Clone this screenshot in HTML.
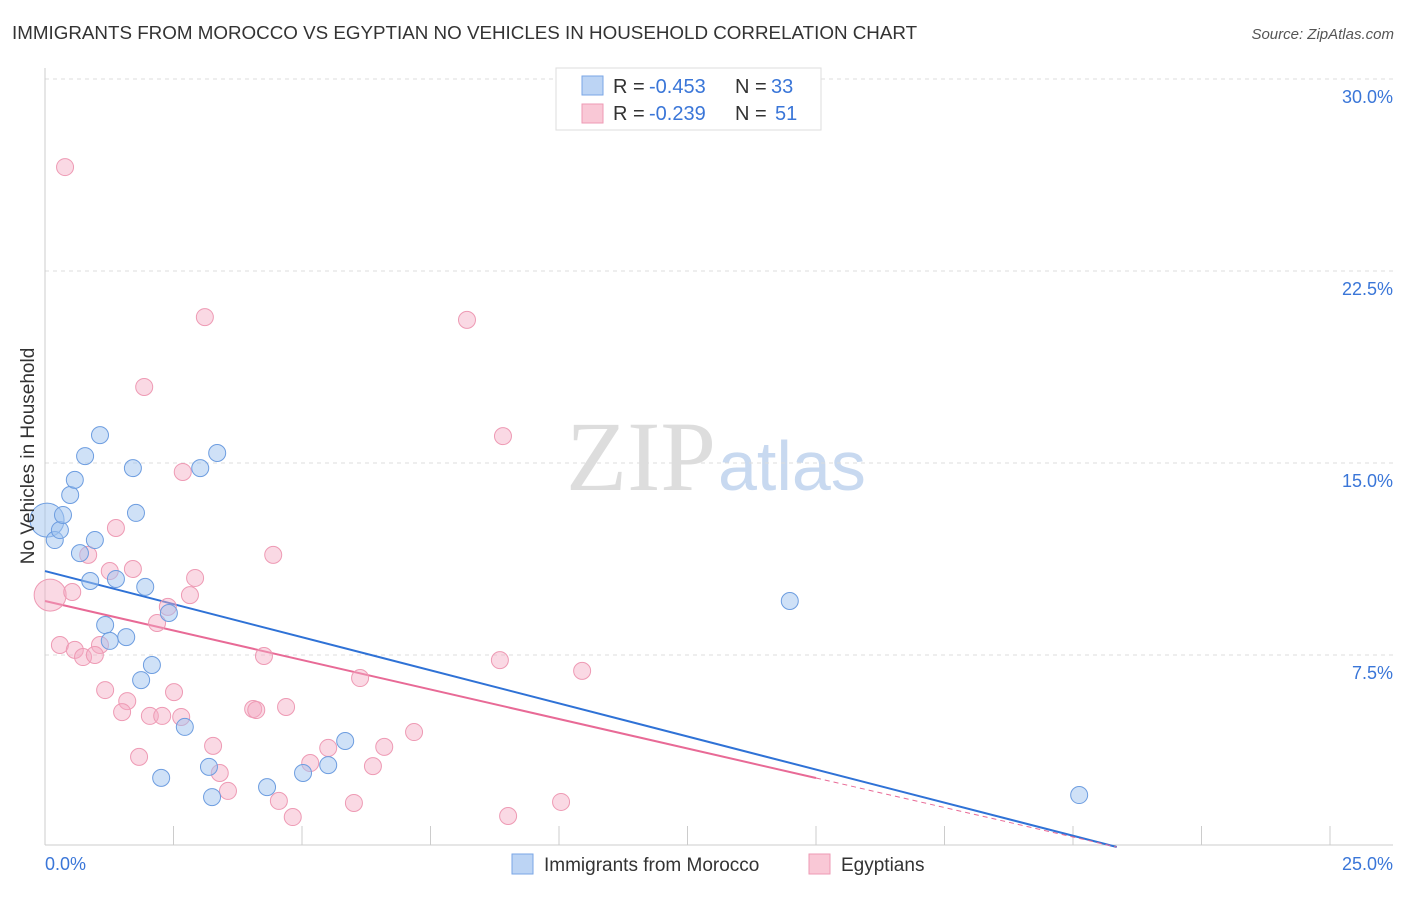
<!DOCTYPE html>
<html><head><meta charset="utf-8"><style>
body{margin:0;background:#fff;font-family:"Liberation Sans",sans-serif;}
</style></head><body>
<svg id="chart" width="1406" height="892" viewBox="0 0 1406 892" xmlns="http://www.w3.org/2000/svg" style="font-family:'Liberation Sans',sans-serif">
<text x="12" y="39" font-size="18.8" fill="#333">IMMIGRANTS FROM MOROCCO VS EGYPTIAN NO VEHICLES IN HOUSEHOLD CORRELATION CHART</text>
<text x="1394" y="39" font-size="15" fill="#555" text-anchor="end" font-style="italic">Source: ZipAtlas.com</text>
<text x="716" y="490" font-size="100" text-anchor="end" fill="#ddd" font-family="Liberation Serif,serif">ZIP</text>
<text x="718" y="490" font-size="70" fill="#c8d9f0">atlas</text>
<g id="grid"></g><g id="axes"></g><g id="lines"></g><g id="points"></g>
<text transform="translate(34,456) rotate(-90)" font-size="19" fill="#333" text-anchor="middle">No Vehicles in Household</text>
<g font-size="20">
<rect x="556" y="68" width="265" height="62" fill="#fff" stroke="#ddd"/>
<rect x="582" y="76" width="21" height="19" fill="#bcd4f4" stroke="#7aa6e6"/>
<rect x="582" y="104" width="21" height="19" fill="#f9c8d6" stroke="#ee9ab4"/>
<text x="613" y="93" fill="#333">R =</text><text x="649" y="93" fill="#3a76d8">-0.453</text>
<text x="735" y="93" fill="#333">N =</text><text x="771" y="93" fill="#3a76d8">33</text>
<text x="613" y="120" fill="#333">R =</text><text x="649" y="120" fill="#3a76d8">-0.239</text>
<text x="735" y="120" fill="#333">N =</text><text x="775" y="120" fill="#3a76d8">51</text>
</g>
<g>
<rect x="512" y="854" width="21" height="20" fill="#bcd4f4" stroke="#7aa6e6"/>
<text x="544" y="871" font-size="19" fill="#333">Immigrants from Morocco</text>
<rect x="809" y="854" width="21" height="20" fill="#f9c8d6" stroke="#ee9ab4"/>
<text x="841" y="871" font-size="19" fill="#333">Egyptians</text>
</g>
</svg>
<script>
const moroccoX=[0.04,0.19,0.29,0.35,0.49,0.58,0.78,1.07,0.68,0.88,0.97,1.38,1.71,1.77,1.95,1.17,1.26,1.58,2.08,1.87,2.41,2.72,2.26,3.02,3.35,3.19,3.25,4.32,5.02,5.51,5.84,14.49,20.12];
const moroccoY=[12.77,11.99,12.38,12.97,13.75,14.34,15.27,16.09,11.48,10.39,11.99,10.47,14.80,13.05,10.16,8.67,8.05,8.20,7.11,6.52,9.14,4.69,2.70,14.80,15.39,3.13,1.95,2.34,2.89,3.20,4.14,9.61,2.03];
const egyptX=[0.39,3.11,8.21,1.93,8.91,2.68,1.38,4.44,0.84,1.26,1.71,2.92,0.10,0.53,2.82,2.39,2.18,0.29,0.58,1.07,0.74,0.97,4.26,8.85,10.45,6.13,1.17,2.51,1.60,1.50,2.04,2.65,2.28,4.05,4.11,4.69,7.18,3.27,5.51,6.60,1.83,3.40,5.16,6.38,3.56,4.55,6.01,10.04,9.01,4.82];
const egyptY=[26.56,20.70,20.59,17.97,16.05,14.65,12.46,11.41,11.41,10.78,10.86,10.51,9.84,9.96,9.84,9.38,8.75,7.89,7.70,7.89,7.42,7.50,7.46,7.30,6.88,6.60,6.13,6.05,5.70,5.27,5.12,5.08,5.12,5.39,5.35,5.47,4.49,3.95,3.87,3.91,3.52,2.89,3.28,3.16,2.19,1.80,1.72,1.76,1.21,1.17];
const yTicks=[7.5,15,22.5,30];
const yTickLabels=["7.5%","15.0%","22.5%","30.0%"];
const xTickLabels=["0.0%","25.0%"];
const moroccoFit=[10.78,-0.517];
const egyptFit=[9.61,-0.461];
const NS="http://www.w3.org/2000/svg";
const X=v=>45+v/25*1285, Y=v=>847-v/7.5*192;
function mk(p,t,a){const e=document.createElementNS(NS,t);for(const k in a)e.setAttribute(k,a[k]);document.getElementById(p).appendChild(e);return e;}
yTicks.forEach((t,i)=>{
 const g=mk('grid','line',{x1:45,x2:1393,y1:Y(t),y2:Y(t),stroke:'#ddd','stroke-dasharray':'4,4'});
 
 
 const l=mk('axes','text',{x:1393,y:Y(t)+24,'font-size':18,fill:'#3a76d8','text-anchor':'end'});
 l.textContent=yTickLabels[i];
 
 
});
const ax=mk('axes','line',{x1:45,x2:1393,y1:845,y2:845,stroke:'#ccc'});


const ay=mk('axes','line',{x1:45,x2:45,y1:68,y2:845,stroke:'#ccc'});


for(let i=1;i<=10;i++){const t=mk('axes','line',{x1:X(i*2.5),x2:X(i*2.5),y1:826,y2:845,stroke:'#ccc'});
 
 }
[[0,45,'start'],[25,1393,'end']].forEach((d,i)=>{const t=mk('axes','text',{x:d[1],y:870,'font-size':18,fill:'#3a76d8','text-anchor':d[2]});t.textContent=xTickLabels[i];
 
 });
function xEnd(f){return -f[0]/f[1];}
let l1=mk('lines','line',{x1:X(0),y1:Y(moroccoFit[0]),x2:X(xEnd(moroccoFit)),y2:Y(0),stroke:'#2f72d6','stroke-width':2});


let l2=mk('lines','line',{x1:X(0),y1:Y(egyptFit[0]),x2:X(15),y2:Y(egyptFit[0]+egyptFit[1]*15),stroke:'#e86a96','stroke-width':2});


let l3=mk('lines','line',{x1:X(15),y1:Y(egyptFit[0]+egyptFit[1]*15),x2:X(xEnd(egyptFit)),y2:Y(0),stroke:'#e86a96','stroke-width':1,'stroke-dasharray':'5,4'});


egyptX.forEach((v,i)=>{const c=mk('points','circle',{cx:X(v),cy:Y(egyptY[i]),r:i==12?16:8.5,fill:'rgba(244,170,195,0.45)',stroke:'#ee9ab4','stroke-width':1});
 
 });
moroccoX.forEach((v,i)=>{const c=mk('points','circle',{cx:X(v),cy:Y(moroccoY[i]),r:i==0?17:8.5,fill:'rgba(160,195,240,0.5)',stroke:'#6d9de0','stroke-width':1});
 
 });
</script>
</body></html>
